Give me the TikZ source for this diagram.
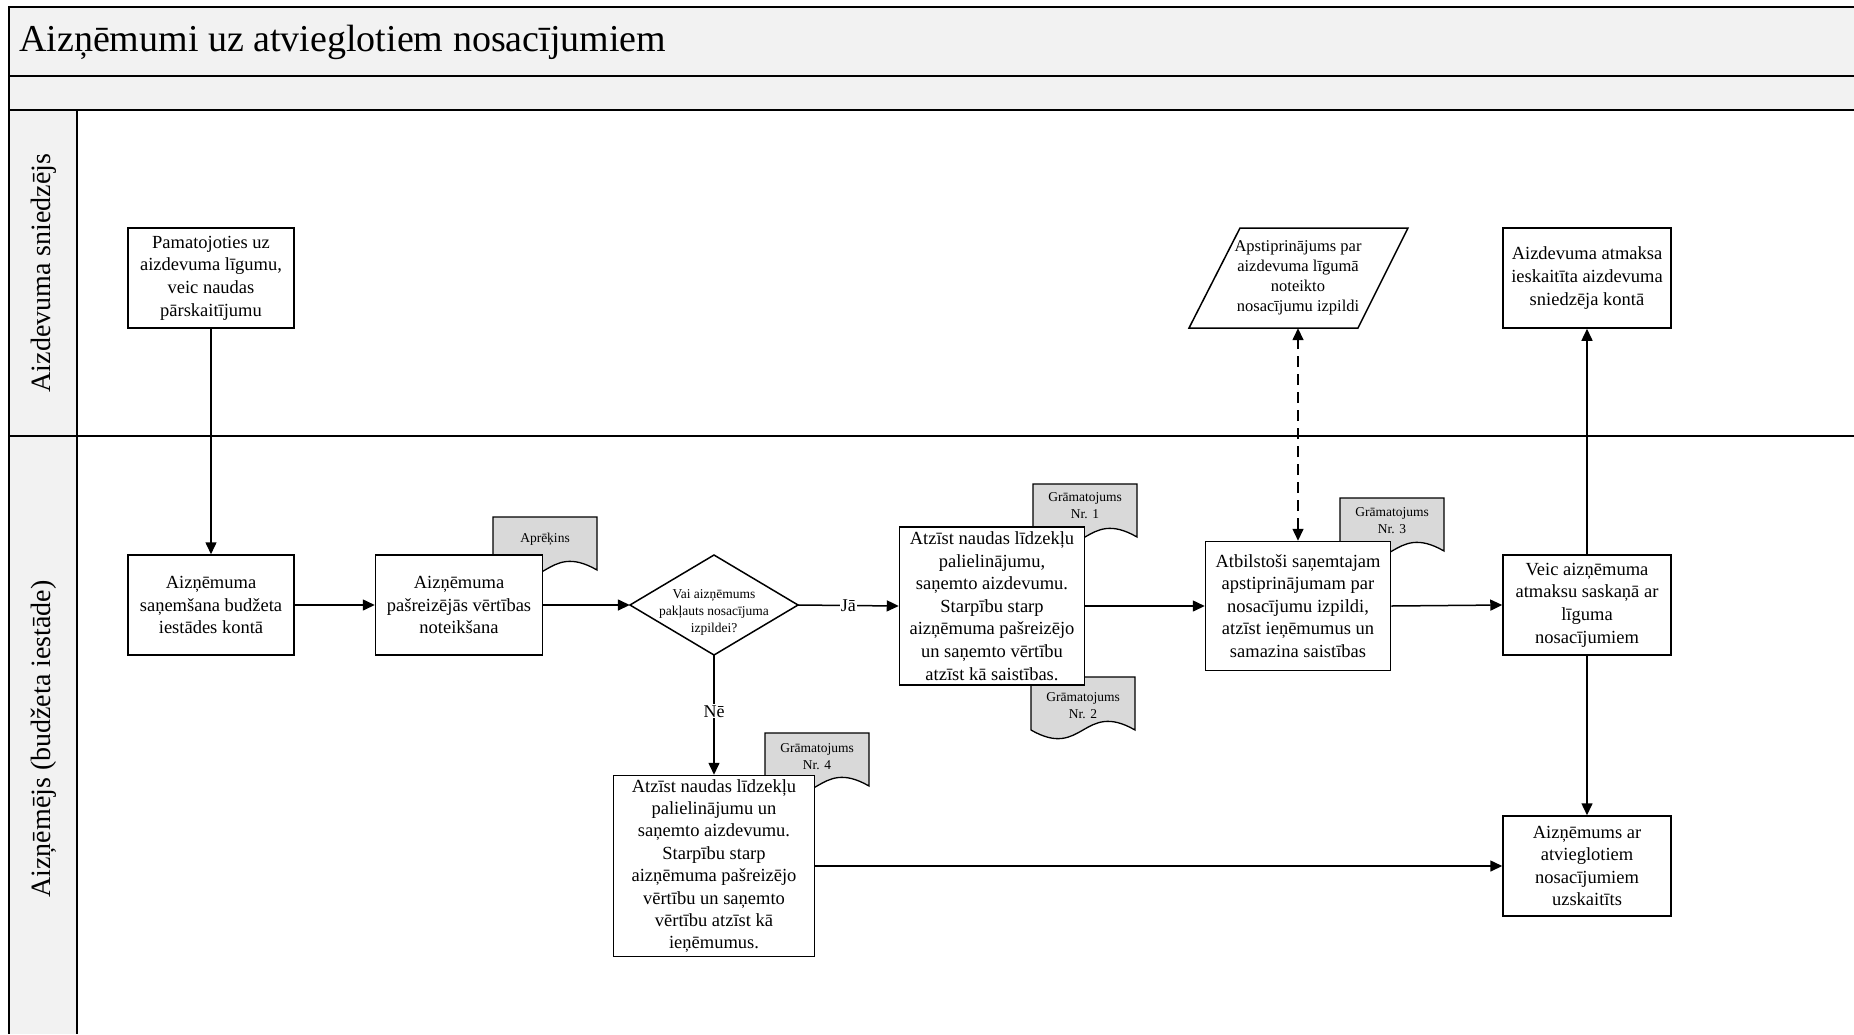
\documentclass[tikz,border=0pt]{standalone}
\usepackage{fontspec}
\setmainfont{Liberation Serif}
\usetikzlibrary{arrows.meta}
\definecolor{hdr}{HTML}{F2F2F2}
\definecolor{docg}{HTML}{D9D9D9}
\tikzset{
  lane/.style={line width=2pt, draw=black},
  boxline/.style={line width=1.5pt, draw=black, line join=miter},
  box/.style={boxline, fill=white, align=center, inner sep=0pt,
              font=\fontsize{18.5}{22.6}\selectfont},
  shapetext/.style={align=center, inner sep=0pt},
  docs/.style={line width=1.3pt, draw=black, fill=docg},
  doctext/.style={align=center, inner sep=0pt, font=\fontsize{13.5}{17}\selectfont},
  flow/.style={line width=1.5pt, -{Triangle[length=12pt,width=11pt]}},
  dflow/.style={line width=1.5pt, dash pattern=on 11pt off 7pt,
               {Triangle[length=12pt,width=11pt]}-{Triangle[length=12pt,width=11pt]}},
  lbl/.style={fill=white, inner sep=1pt, font=\fontsize{18}{22}\selectfont}
}
\newcommand\gdoc[5]{%
  \draw[docs] (#2,#3) -- ++(104,0) -- ++(0,53) .. controls +(-52,-30) and +(52,30) .. ++(-104,0) -- cycle;
  \node[doctext] (#1) at (#2+52,#3+#4) {#5};}
\begin{document}
\begin{tikzpicture}[x=1pt,y=-1pt]
\useasboundingbox (0,0) rectangle (1854,1034);
\fill[white] (0,0) rectangle (1854,1034);
% pool and lanes
\fill[hdr] (9,7) rectangle (1854,110);
\fill[hdr] (9,110) rectangle (77,1034);
\draw[lane] (1854,7) -- (9,7) -- (9,1034);
\draw[lane] (9,76) -- (1854,76);
\draw[lane] (9,110) -- (1854,110);
\draw[lane] (77,110) -- (77,1034);
\draw[lane] (9,436) -- (1854,436);
\node[anchor=west, inner sep=0pt, font=\fontsize{38}{45}\selectfont] (title) at (19,42) {Aizņēmumi uz atvieglotiem nosacījumiem};
\node[rotate=90, inner sep=0pt, font=\fontsize{28}{34}\selectfont] (lane1) at (44,273) {Aizdevuma sniedzējs};
\node[rotate=90, inner sep=0pt, font=\fontsize{28}{34}\selectfont] (lane2) at (44,739) {Aizņēmējs (budžeta iestāde)};

% documents (behind the boxes)
\gdoc{apr}{493}{517}{22}{Aprēķins}
\gdoc{g1}{1033}{484}{22}{Grāmatojums\\Nr. 1}
\gdoc{g2}{1031}{677}{29}{Grāmatojums\\Nr. 2}
\gdoc{g3}{1340}{498}{23}{Grāmatojums\\Nr. 3}
\gdoc{g4}{765}{733}{24}{Grāmatojums\\Nr. 4}

% process boxes
\node[box, minimum width=166pt, minimum height=100pt] (b1) at (211,278)
  {Pamatojoties uz\\aizdevuma līgumu,\\veic naudas\\pārskaitījumu};
\node[box, minimum width=166pt, minimum height=100pt] (b2) at (211,605)
  {Aizņēmuma\\saņemšana budžeta\\iestādes kontā};
\node[box, minimum width=167pt, minimum height=100pt] (b3) at (459,605)
  {Aizņēmuma\\pašreizējās vērtības\\noteikšana};
% decision
\draw[boxline, fill=white] (714,555) -- (798,605) -- (714,655) -- (630,605) -- cycle;
\node[shapetext, minimum width=168pt, minimum height=100pt] (d) at (714,605) {};
\node[shapetext, font=\fontsize{13.5}{17}\selectfont] (dtext) at (714,612)
  {Vai aizņēmums\\pakļauts nosacījuma\\izpildei?};
\node[box, minimum width=185pt, minimum height=158pt] (b4) at (992,606)
  {Atzīst naudas līdzekļu\\palielinājumu,\\saņemto aizdevumu.\\Starpību starp\\aizņēmuma pašreizējo\\un saņemto vērtību\\atzīst kā saistības.};
\node[box, minimum width=201pt, minimum height=181pt, font=\fontsize{18.5}{22.4}\selectfont] (b5) at (714,866)
  {Atzīst naudas līdzekļu\\palielinājumu un\\saņemto aizdevumu.\\Starpību starp\\aizņēmuma pašreizējo\\vērtību un saņemto\\vērtību atzīst kā\\ieņēmumus.};
% data (parallelogram)
\draw[boxline, fill=white] (1240,228) -- (1408,228) -- (1358,328) -- (1189,328) -- cycle;
\node[shapetext, minimum width=168pt, minimum height=100pt, font=\fontsize{16.5}{20}\selectfont] (p) at (1298,278)
  {Apstiprinājums par\\aizdevuma līgumā\\noteikto\\nosacījumu izpildi};
\node[box, minimum width=185pt, minimum height=129pt] (b6) at (1298,606)
  {Atbilstoši saņemtajam\\apstiprinājumam par\\nosacījumu izpildi,\\atzīst ieņēmumus un\\samazina saistības};
\node[box, minimum width=168pt, minimum height=100pt] (b7) at (1587,278)
  {Aizdevuma atmaksa\\ieskaitīta aizdevuma\\sniedzēja kontā};
\node[box, minimum width=168pt, minimum height=100pt] (b8) at (1587,605)
  {Veic aizņēmuma\\atmaksu saskaņā ar\\līguma\\nosacījumiem};
\node[box, minimum width=168pt, minimum height=100pt] (b9) at (1587,866)
  {Aizņēmums ar\\atvieglotiem\\nosacījumiem\\uzskaitīts};

% connectors
\draw[flow] (b1) -- (b2);
\draw[flow] (b2) -- (b3);
\draw[flow] (b3) -- (d.west);
\draw[flow] (d.east) -- node[lbl, pos=0.5] {Jā} (b4.west);
\draw[flow] (d.south) -- node[lbl, pos=0.47] {Nē} (b5.north);
\draw[flow] (b4.east) -- (b6.west);
\draw[flow] (b6.east) -- (b8.west);
\draw[flow] (b8.north) -- (b7.south);
\draw[flow] (b8.south) -- (b9.north);
\draw[flow] (b5.east) -- (b9.west);
\draw[dflow] (b6.north) -- (p.south);
\end{tikzpicture}
\end{document}
